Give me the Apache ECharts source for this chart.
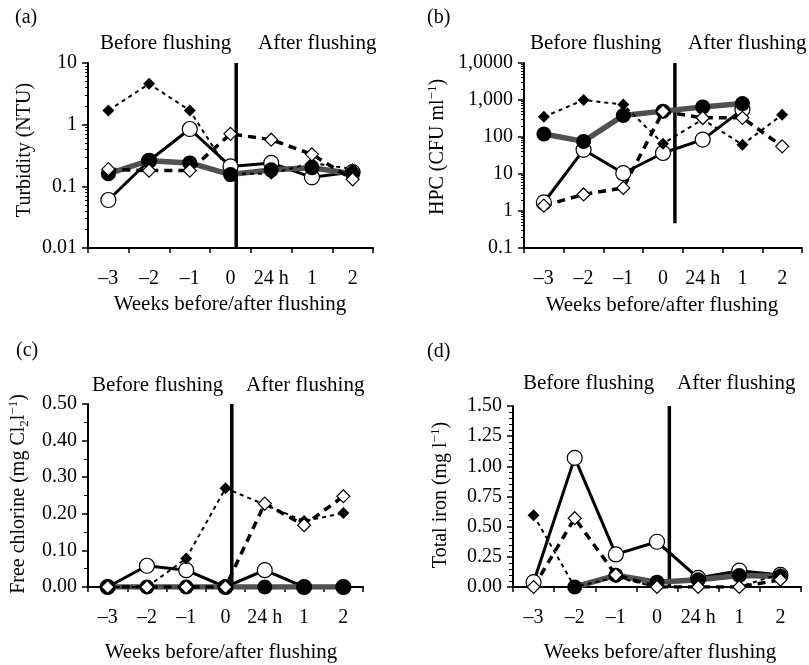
<!DOCTYPE html>
<html>
<head>
<meta charset="utf-8">
<script src="https://cdn.jsdelivr.net/npm/echarts@6/dist/echarts.min.js"></script>
<style>
  html, body { margin: 0; padding: 0; background: #fff; }
  #chart { width: 809px; height: 665px; }
</style>
</head>
<body>
<div id="chart"></div>
<script>
// x categories (weeks before/after flushing)
var weeks = ['–3', '–2', '–1', '0', '24 h', '1', '2'];

// (a) turbidity, NTU
var turbOpenCircle    = [0.06, 0.26, 0.85, 0.21, 0.24, 0.14, 0.17];
var turbFilledCircle  = [0.16, 0.26, 0.24, 0.155, 0.185, 0.2, 0.16];
var turbFilledDiamond = [1.7, 4.6, 1.7, 0.16, 0.16, 0.24, 0.19];
var turbOpenDiamond   = [0.19, 0.18, 0.18, 0.71, 0.57, 0.33, 0.13];

// (b) HPC, CFU/ml
var hpcOpenCircle    = [1.7, 45, 10.5, 37, 85, 550, null];
var hpcFilledCircle  = [120, 76, 380, 500, 650, 800, null];
var hpcFilledDiamond = [350, 1000, 750, 66, 300, 62, 400];
var hpcOpenDiamond   = [1.4, 2.8, 4.2, 490, 330, 330, 56];

// (c) free chlorine, mg Cl2/l
var clOpenCircle    = [0, 0.058, 0.046, 0, 0.046, 0, 0];
var clFilledCircle  = [0, 0, 0, 0, 0, 0, 0];
var clFilledDiamond = [0, 0, 0.078, 0.27, 0.225, 0.18, 0.202];
var clOpenDiamond   = [0, 0, 0, 0, 0.228, 0.169, 0.248];

// (d) total iron, mg/l
var feOpenCircle    = [0.04, 1.07, 0.27, 0.375, 0.075, 0.135, 0.1];
var feFilledCircle  = [null, 0, 0.097, 0.04, 0.06, 0.095, 0.09];
var feFilledDiamond = [0.595, 0, 0.08, 0, 0, 0, 0.11];
var feOpenDiamond   = [0, 0.57, 0.1, 0, 0, 0, 0.06];

// flushing line (x in category units, y range)
var flushX = [3.64, 3.8, 3.66, 3.8];
var flushY = [[0.01, 10], [0.47, 10000], [0, 0.5], [0, 1.5]];

// tick labels
var turbTicks = ['0.01', '0.1', '1', '10'];
var hpcTicks = ['0.1', '1', '10', '100', '1,000', '1,0000'];

var FONT = '"Liberation Serif", "Times New Roman", serif';

var panels = [
    { grid: [88, 63, 285, 185], data: [turbOpenCircle, turbFilledCircle, turbFilledDiamond, turbOpenDiamond],
      y: { type: 'log', min: 0.01, max: 10, ticks: turbTicks } },
    { grid: [524, 63, 278, 185], data: [hpcOpenCircle, hpcFilledCircle, hpcFilledDiamond, hpcOpenDiamond],
      y: { type: 'log', min: 0.1, max: 10000, ticks: hpcTicks } },
    { grid: [88, 404, 275, 183], data: [clOpenCircle, clFilledCircle, clFilledDiamond, clOpenDiamond],
      y: { type: 'value', min: 0, max: 0.5, interval: 0.1, minor: 2 } },
    { grid: [513, 406, 288, 181], data: [feOpenCircle, feFilledCircle, feFilledDiamond, feOpenDiamond],
      y: { type: 'value', min: 0, max: 1.5, interval: 0.25, minor: 5 } }
];

function pairs(arr) {
    return arr.map(function (v, k) { return [k + 0.5, v == null ? '-' : v]; });
}

var grids = [], xAxes = [], yAxes = [], series = [];

panels.forEach(function (p, i) {
    grids.push({ left: p.grid[0], top: p.grid[1], width: p.grid[2], height: p.grid[3] });
    xAxes.push({
        type: 'category', gridIndex: i, data: weeks, boundaryGap: true,
        axisLine: { show: true, lineStyle: { color: '#000', width: 2 } },
        axisTick: { show: true, interval: 0, length: 5, lineStyle: { color: '#000', width: 1.5 } },
        axisLabel: { color: '#000', fontFamily: FONT, fontSize: 20, margin: 21, interval: 0, hideOverlap: false },
        splitLine: { show: false }
    });
    xAxes.push({ type: 'value', gridIndex: i, min: 0, max: 7, show: false });

    var ya = {
        type: p.y.type, gridIndex: i, min: p.y.min, max: p.y.max,
        axisLine: { show: true, lineStyle: { color: '#000', width: 2 } },
        axisTick: { show: true, length: 6, lineStyle: { color: '#000', width: 1.5 } },
        splitLine: { show: false },
        axisLabel: { color: '#000', fontFamily: FONT, fontSize: 20, margin: 11 }
    };
    if (p.y.type === 'log') {
        var lo = Math.round(Math.log10(p.y.min));
        var ticks = p.y.ticks;
        ya.logBase = 10;
        ya.splitNumber = ticks.length - 1;
        ya.axisLabel.formatter = function (v) {
            return ticks[Math.round(Math.log10(v)) - lo] || '';
        };
        ya.minorTick = { show: true, splitNumber: 9, length: 3, lineStyle: { color: '#000', width: 1 } };
    } else {
        ya.interval = p.y.interval;
        ya.axisLabel.formatter = function (v) { return v.toFixed(2); };
        ya.minorTick = { show: true, splitNumber: p.y.minor, length: 4, lineStyle: { color: '#000', width: 1 } };
    }
    yAxes.push(ya);

    var xi = 2 * i + 1;
    // flushing line
    series.push({
        type: 'line', xAxisIndex: xi, yAxisIndex: i, symbol: 'none', silent: true,
        data: [[flushX[i], flushY[i][0]], [flushX[i], flushY[i][1]]],
        lineStyle: { color: '#000', width: 3.5 }
    });
    // open circles, solid black
    series.push({
        type: 'line', xAxisIndex: xi, yAxisIndex: i, data: pairs(p.data[0]),
        symbol: 'circle', symbolSize: 15,
        lineStyle: { color: '#000', width: 3 },
        itemStyle: { color: '#fff', borderColor: '#000', borderWidth: 1.2 }
    });
    // filled circles, thick grey
    series.push({
        type: 'line', xAxisIndex: xi, yAxisIndex: i, data: pairs(p.data[1]),
        symbol: 'circle', symbolSize: 15,
        lineStyle: { color: '#505050', width: 5.5 },
        itemStyle: { color: '#000', borderColor: '#000', borderWidth: 0 }
    });
    // filled diamonds, fine dotted
    series.push({
        type: 'line', xAxisIndex: xi, yAxisIndex: i, data: pairs(p.data[2]),
        symbol: 'diamond', symbolSize: 12,
        lineStyle: { color: '#000', width: 2, type: [4, 4] },
        itemStyle: { color: '#000', borderColor: '#000', borderWidth: 0 }
    });
    // open diamonds, heavy dashed
    series.push({
        type: 'line', xAxisIndex: xi, yAxisIndex: i, data: pairs(p.data[3]),
        symbol: 'diamond', symbolSize: 13,
        lineStyle: { color: '#000', width: 3.5, type: [8, 6] },
        itemStyle: { color: '#fff', borderColor: '#000', borderWidth: 1.2 }
    });
});

function txt(s, x, y, size, align) {
    return {
        type: 'text', x: x, y: y,
        style: { text: s, font: size + 'px ' + FONT, fill: '#000',
                 textAlign: align || 'left', textVerticalAlign: 'middle' }
    };
}
function vtxt(s, x, y) {
    return {
        type: 'text', x: x, y: y, rotation: Math.PI / 2,
        style: {
            text: s, fill: '#000', textAlign: 'center', textVerticalAlign: 'middle',
            rich: {
                n: { fontFamily: FONT, fontSize: 20, lineHeight: 24 },
                sup: { fontFamily: FONT, fontSize: 13, lineHeight: 13, verticalAlign: 'top' },
                sub: { fontFamily: FONT, fontSize: 13, lineHeight: 13, verticalAlign: 'bottom' }
            }
        }
    };
}

var graphics = [
    txt('(a)', 15, 18, 20), txt('(b)', 427, 18, 20), txt('(c)', 16, 351, 20), txt('(d)', 427, 352, 20),
    txt('Before flushing', 100, 43, 21), txt('After flushing', 258, 43, 21),
    txt('Before flushing', 530, 43, 21), txt('After flushing', 688, 43, 21),
    txt('Before flushing', 92, 385, 21), txt('After flushing', 246, 385, 21),
    txt('Before flushing', 523, 383, 21), txt('After flushing', 677, 383, 21),
    txt('Weeks before/after flushing', 230, 304, 21, 'center'),
    txt('Weeks before/after flushing', 662, 305, 21, 'center'),
    txt('Weeks before/after flushing', 221, 652, 21, 'center'),
    txt('Weeks before/after flushing', 660, 652, 21, 'center'),
    vtxt('{n|Turbidity (NTU)}', 25, 150),
    vtxt('{n|HPC (CFU ml}{sup|−1}{n|)}', 438, 147),
    vtxt('{n|Free chlorine (mg Cl}{sub|2}{n|l}{sup|−1}{n|)}', 19, 494),
    vtxt('{n|Total iron (mg l}{sup|−1}{n|)}', 441, 495)
];

var chart = echarts.init(document.getElementById('chart'), null, { renderer: 'canvas' });
chart.setOption({
    animation: false,
    backgroundColor: '#fff',
    grid: grids,
    xAxis: xAxes,
    yAxis: yAxes,
    series: series,
    graphic: { elements: graphics }
});
</script>
</body>
</html>
